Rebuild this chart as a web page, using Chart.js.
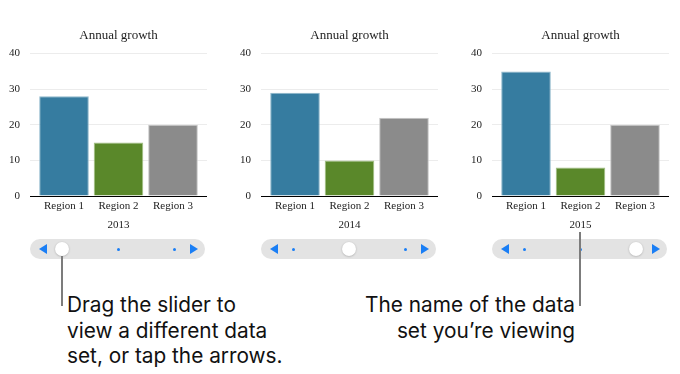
<!DOCTYPE html>
<html>
<head>
<meta charset="utf-8">
<script src="https://cdn.jsdelivr.net/npm/chart.js@4.4.1/dist/chart.umd.min.js"></script>
<style>
body { margin: 0; background: #fff; width: 680px; height: 374px; overflow: hidden; position: relative; font-family: Inter, "Open Sans", sans-serif; }
.chart { position: absolute; top: 20px; }
.pill { position: absolute; top: 239px; width: 175px; height: 20px; border-radius: 10px; background: #e3e3e3; }
.tri-l, .tri-r { position: absolute; top: 4.5px; width: 0; height: 0; border-top: 5.5px solid transparent; border-bottom: 5.5px solid transparent; }
.tri-l { left: 9px; border-right: 8px solid #1a7ef5; }
.tri-r { left: 160px; border-left: 8px solid #1a7ef5; }
.dot { position: absolute; top: 8.5px; width: 3px; height: 3px; margin-left: -1.5px; border-radius: 50%; background: #1a7ef5; }
.knob { position: absolute; top: 3px; width: 14px; height: 14px; margin-left: -7px; border-radius: 50%; background: #fff; box-shadow: 0 0.5px 2px rgba(0,0,0,0.25); }
.lead { position: absolute; width: 1.5px; background: #7c7c7c; }
.note { position: absolute; font-size: 20.8px; line-height: 25.5px; color: #111; white-space: nowrap; }
</style>
</head>
<body>
<canvas id="c0" class="chart" width="207" height="216" style="left:0px"></canvas>
<canvas id="c1" class="chart" width="207" height="216" style="left:231px"></canvas>
<canvas id="c2" class="chart" width="207" height="216" style="left:462px"></canvas>

<div class="note" style="left:67px; top:292px;">Drag the slider to<br>view a different data<br>set, or tap the arrows.</div>
<div class="note" style="right:105px; top:292px; text-align:right;">The name of the data<br>set you’re viewing</div>

<script>
// Données
const years = ['2013', '2014', '2015'];
const regions = ['Region 1', 'Region 2', 'Region 3'];
const growth2013 = [28, 15, 20];
const growth2014 = [29, 10, 22];
const growth2015 = [35, 8, 20];
const yTicks = [0, 10, 20, 30, 40];

const barColors = ['#367ca0', '#5a882a', '#8b8b8b'];
const barEdges = ['#8fb8cc', '#a2c083', '#c4c4c4'];
const seriesByYear = [growth2013, growth2014, growth2015];

Chart.defaults.font.family = '"Liberation Serif", "DejaVu Serif", serif';
Chart.defaults.color = '#222';

function makeChart(id, year, values) {
    const ctx = document.getElementById(id).getContext('2d');
    return new Chart(ctx, {
        type: 'bar',
        data: {
            datasets: [{
                data: regions.map((r, i) => ({ x: i, y: values[i] })),
                backgroundColor: barColors,
                borderColor: barEdges,
                borderWidth: 1,
                barPercentage: 0.91,
                categoryPercentage: 1
            }]
        },
        options: {
            responsive: false,
            animation: false,
            events: [],
            plugins: {
                legend: { display: false },
                tooltip: { enabled: false },
                title: {
                    display: true,
                    text: 'Annual growth',
                    fullSize: false,
                    font: { size: 13, weight: 'normal' },
                    color: '#222',
                    padding: { top: 8, bottom: 10 }
                }
            },
            scales: {
                x: {
                    type: 'linear',
                    offset: false,
                    min: -0.624,
                    max: 2.624,
                    grid: { display: false, offset: false, drawTicks: false },
                    border: { display: true, color: '#000', width: 1 },
                    afterBuildTicks: s => { s.ticks = regions.map((r, i) => ({ value: i })); },
                    afterFit: s => { s.height = 40; },
                    ticks: {
                        autoSkip: false,
                        maxRotation: 0,
                        padding: 3.5,
                        font: { size: 11 },
                        color: '#222',
                        callback: v => regions[v] ?? ''
                    },
                    title: {
                        display: true,
                        text: year,
                        font: { size: 11 },
                        color: '#222',
                        padding: { top: 6, bottom: 4 }
                    }
                },
                y: {
                    min: 0,
                    max: 40,
                    afterBuildTicks: s => { s.ticks = yTicks.map(v => ({ value: v })); },
                    afterFit: s => { s.width = 30; },
                    grid: {
                        drawTicks: false,
                        color: c => c.tick && c.tick.value === 0 ? 'rgba(0,0,0,0)' : '#ececec'
                    },
                    border: { display: false },
                    ticks: { padding: 10, font: { size: 11 }, color: '#222' }
                }
            }
        }
    });
}

years.forEach((y, i) => makeChart('c' + i, y, seriesByYear[i]));

// Curseurs sous chaque graphique
const stops = [32, 88, 144];
years.forEach((y, i) => {
    const pill = document.createElement('div');
    pill.className = 'pill';
    pill.style.left = (30 + 231 * i) + 'px';
    pill.innerHTML = '<div class="tri-l"></div><div class="tri-r"></div>';
    stops.forEach((s, k) => {
        const el = document.createElement('div');
        el.className = k === i ? 'knob' : 'dot';
        el.style.left = s + 'px';
        pill.appendChild(el);
    });
    document.body.appendChild(pill);
});

// Traits de rappel
function lead(x, top, bottom) {
    const el = document.createElement('div');
    el.className = 'lead';
    el.style.left = (x - 0.75) + 'px';
    el.style.top = top + 'px';
    el.style.height = (bottom - top) + 'px';
    document.body.appendChild(el);
}
lead(62, 256, 306);
lead(580, 232, 306);
</script>
</body>
</html>
